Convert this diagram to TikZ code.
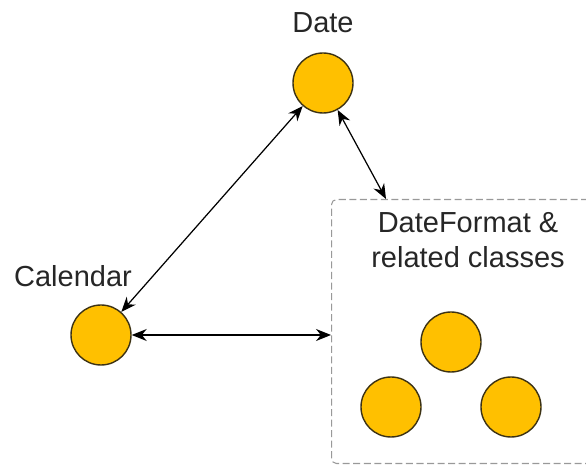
\documentclass[tikz,border=0pt]{standalone}
\usepackage{fontspec}
\setmainfont{Liberation Sans}
\usetikzlibrary{arrows.meta}
\definecolor{dotfill}{RGB}{255,192,0}
\definecolor{dotline}{RGB}{60,50,20}
\tikzset{
    dot/.style={circle, fill=dotfill, draw=dotline, line width=0.8pt, minimum size=1.2cm, inner sep=0pt},
    lbl/.style={font=\fontsize{16.5}{20}\selectfont, text=black!85, inner sep=0pt},
    fmt/.style={draw=black!40, dash pattern=on 4pt off 2pt, line width=0.6pt, rounded corners=0.1cm, inner sep=0pt},
    link/.style={<->, line width=0.7pt, >={Stealth[length=0.3cm,width=0.24cm]}}
}
\begin{document}
\begin{tikzpicture}
            \useasboundingbox (0,0) rectangle (11.72,9.3);
            % group box, runs off the right edge
            \node[fmt, minimum width=6.5cm, minimum height=5.28cm, anchor=north west] (fmtbox) at (6.62,5.32) {};
            \coordinate (boxin) at ([xshift=1.1cm]fmtbox.north west);
            \node[dot] (date) at (6.46,7.64) {};
            \node[dot] (cal) at (2.02,2.6) {};
            \node[dot] (fa) at (9.02,2.46) {};
            \node[dot] (fb) at (7.82,1.16) {};
            \node[dot] (fc) at (10.22,1.16) {};
            \node[lbl, anchor=base] (datelbl) at (6.46,8.64) {Date};
            \node[lbl, anchor=base] (callbl) at (1.46,3.56) {Calendar};
            \node[lbl, anchor=north, align=center] (fmtlbl) at (9.36,5.06) {DateFormat \&\\related classes};
            \draw[link] (cal) -- (date);
            \draw[link] (date) -- (boxin);
            \draw[link] (cal) -- (cal -| fmtbox.west);
        \end{tikzpicture}
\end{document}
